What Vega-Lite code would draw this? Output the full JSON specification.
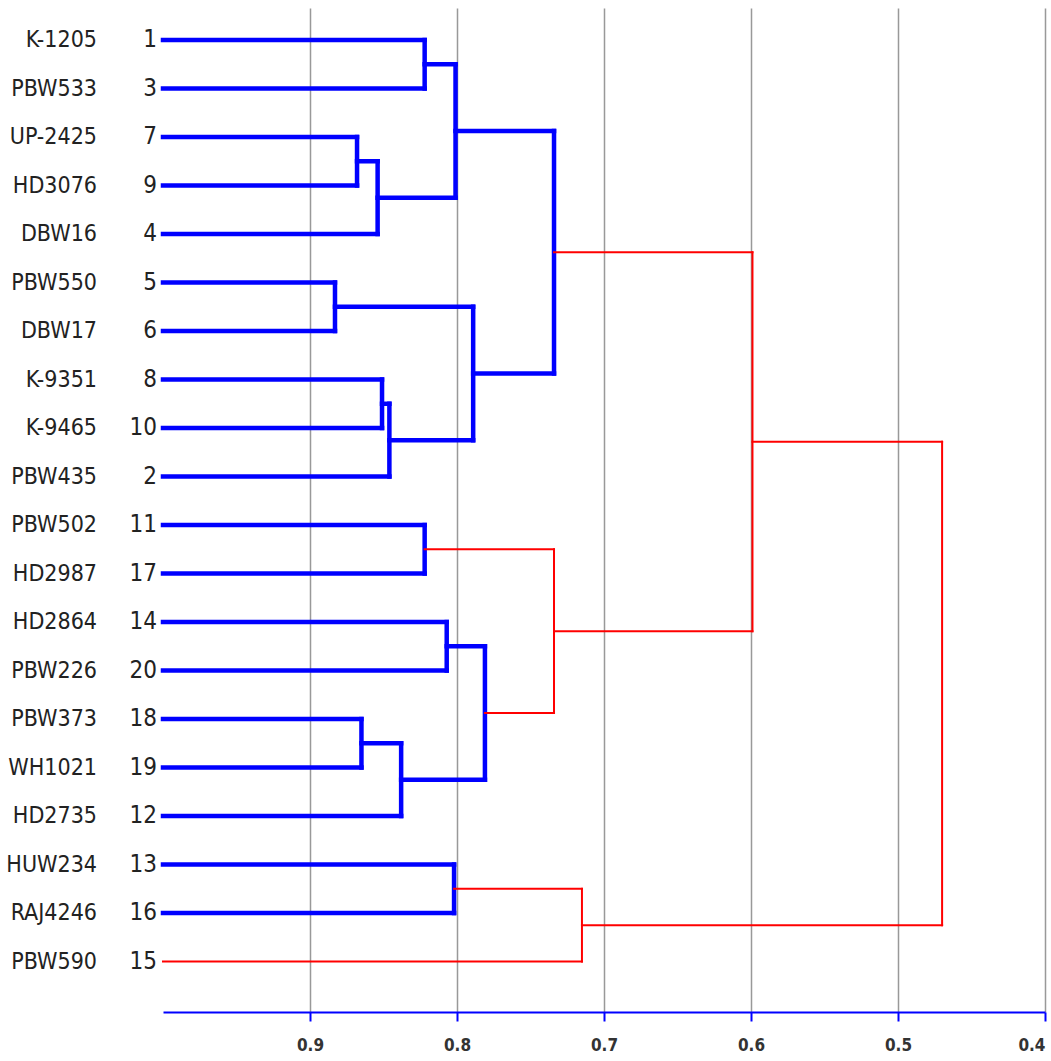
{
  "$schema": "https://vega.github.io/schema/vega-lite/v6.json",
  "width": 882,
  "height": 1004,
  "autosize": "none",
  "padding": {"left": 163, "top": 8, "right": 6, "bottom": 49},
  "background": "white",
  "config": {"view": {"stroke": null}},
  "datasets": {
    "segs": [
      {"x1": 1.0, "x2": 0.822, "y1": 1, "y2": 1, "grp": "cluster"},
      {"x1": 1.0, "x2": 0.822, "y1": 2, "y2": 2, "grp": "cluster"},
      {"x1": 0.822, "x2": 0.822, "y1": 1, "y2": 2, "grp": "cluster"},
      {"x1": 1.0, "x2": 0.868, "y1": 3, "y2": 3, "grp": "cluster"},
      {"x1": 1.0, "x2": 0.868, "y1": 4, "y2": 4, "grp": "cluster"},
      {"x1": 0.868, "x2": 0.868, "y1": 3, "y2": 4, "grp": "cluster"},
      {"x1": 0.868, "x2": 0.854, "y1": 3.5, "y2": 3.5, "grp": "cluster"},
      {"x1": 1.0, "x2": 0.854, "y1": 5, "y2": 5, "grp": "cluster"},
      {"x1": 0.854, "x2": 0.854, "y1": 3.5, "y2": 5, "grp": "cluster"},
      {"x1": 0.822, "x2": 0.801, "y1": 1.5, "y2": 1.5, "grp": "cluster"},
      {"x1": 0.854, "x2": 0.801, "y1": 4.25, "y2": 4.25, "grp": "cluster"},
      {"x1": 0.801, "x2": 0.801, "y1": 1.5, "y2": 4.25, "grp": "cluster"},
      {"x1": 1.0, "x2": 0.883, "y1": 6, "y2": 6, "grp": "cluster"},
      {"x1": 1.0, "x2": 0.883, "y1": 7, "y2": 7, "grp": "cluster"},
      {"x1": 0.883, "x2": 0.883, "y1": 6, "y2": 7, "grp": "cluster"},
      {"x1": 1.0, "x2": 0.851, "y1": 8, "y2": 8, "grp": "cluster"},
      {"x1": 1.0, "x2": 0.851, "y1": 9, "y2": 9, "grp": "cluster"},
      {"x1": 0.851, "x2": 0.851, "y1": 8, "y2": 9, "grp": "cluster"},
      {"x1": 0.851, "x2": 0.846, "y1": 8.5, "y2": 8.5, "grp": "cluster"},
      {"x1": 1.0, "x2": 0.846, "y1": 10, "y2": 10, "grp": "cluster"},
      {"x1": 0.846, "x2": 0.846, "y1": 8.5, "y2": 10, "grp": "cluster"},
      {"x1": 0.883, "x2": 0.789, "y1": 6.5, "y2": 6.5, "grp": "cluster"},
      {"x1": 0.846, "x2": 0.789, "y1": 9.25, "y2": 9.25, "grp": "cluster"},
      {"x1": 0.789, "x2": 0.789, "y1": 6.5, "y2": 9.25, "grp": "cluster"},
      {"x1": 0.801, "x2": 0.734, "y1": 2.875, "y2": 2.875, "grp": "cluster"},
      {"x1": 0.789, "x2": 0.734, "y1": 7.875, "y2": 7.875, "grp": "cluster"},
      {"x1": 0.734, "x2": 0.734, "y1": 2.875, "y2": 7.875, "grp": "cluster"},
      {"x1": 1.0, "x2": 0.822, "y1": 11, "y2": 11, "grp": "cluster"},
      {"x1": 1.0, "x2": 0.822, "y1": 12, "y2": 12, "grp": "cluster"},
      {"x1": 0.822, "x2": 0.822, "y1": 11, "y2": 12, "grp": "cluster"},
      {"x1": 1.0, "x2": 0.807, "y1": 13, "y2": 13, "grp": "cluster"},
      {"x1": 1.0, "x2": 0.807, "y1": 14, "y2": 14, "grp": "cluster"},
      {"x1": 0.807, "x2": 0.807, "y1": 13, "y2": 14, "grp": "cluster"},
      {"x1": 1.0, "x2": 0.865, "y1": 15, "y2": 15, "grp": "cluster"},
      {"x1": 1.0, "x2": 0.865, "y1": 16, "y2": 16, "grp": "cluster"},
      {"x1": 0.865, "x2": 0.865, "y1": 15, "y2": 16, "grp": "cluster"},
      {"x1": 0.865, "x2": 0.838, "y1": 15.5, "y2": 15.5, "grp": "cluster"},
      {"x1": 1.0, "x2": 0.838, "y1": 17, "y2": 17, "grp": "cluster"},
      {"x1": 0.838, "x2": 0.838, "y1": 15.5, "y2": 17, "grp": "cluster"},
      {"x1": 0.807, "x2": 0.781, "y1": 13.5, "y2": 13.5, "grp": "cluster"},
      {"x1": 0.838, "x2": 0.781, "y1": 16.25, "y2": 16.25, "grp": "cluster"},
      {"x1": 0.781, "x2": 0.781, "y1": 13.5, "y2": 16.25, "grp": "cluster"},
      {"x1": 1.0, "x2": 0.802, "y1": 18, "y2": 18, "grp": "cluster"},
      {"x1": 1.0, "x2": 0.802, "y1": 19, "y2": 19, "grp": "cluster"},
      {"x1": 0.802, "x2": 0.802, "y1": 18, "y2": 19, "grp": "cluster"},
      {"x1": 0.822, "x2": 0.734, "y1": 11.5, "y2": 11.5, "grp": "link"},
      {"x1": 0.781, "x2": 0.734, "y1": 14.875, "y2": 14.875, "grp": "link"},
      {"x1": 0.734, "x2": 0.734, "y1": 11.5, "y2": 14.875, "grp": "link"},
      {"x1": 0.734, "x2": 0.599, "y1": 5.375, "y2": 5.375, "grp": "link"},
      {"x1": 0.734, "x2": 0.599, "y1": 13.1875, "y2": 13.1875, "grp": "link"},
      {"x1": 0.599, "x2": 0.599, "y1": 5.375, "y2": 13.1875, "grp": "link"},
      {"x1": 0.802, "x2": 0.715, "y1": 18.5, "y2": 18.5, "grp": "link"},
      {"x1": 1.0, "x2": 0.715, "y1": 20, "y2": 20, "grp": "link"},
      {"x1": 0.715, "x2": 0.715, "y1": 18.5, "y2": 20, "grp": "link"},
      {"x1": 0.599, "x2": 0.470, "y1": 9.28125, "y2": 9.28125, "grp": "link"},
      {"x1": 0.715, "x2": 0.470, "y1": 19.25, "y2": 19.25, "grp": "link"},
      {"x1": 0.470, "x2": 0.470, "y1": 9.28125, "y2": 19.25, "grp": "link"}
    ],
    "leaves": [
      {"pos": 1, "name": "K-1205", "num": "1"},
      {"pos": 2, "name": "PBW533", "num": "3"},
      {"pos": 3, "name": "UP-2425", "num": "7"},
      {"pos": 4, "name": "HD3076", "num": "9"},
      {"pos": 5, "name": "DBW16", "num": "4"},
      {"pos": 6, "name": "PBW550", "num": "5"},
      {"pos": 7, "name": "DBW17", "num": "6"},
      {"pos": 8, "name": "K-9351", "num": "8"},
      {"pos": 9, "name": "K-9465", "num": "10"},
      {"pos": 10, "name": "PBW435", "num": "2"},
      {"pos": 11, "name": "PBW502", "num": "11"},
      {"pos": 12, "name": "HD2987", "num": "17"},
      {"pos": 13, "name": "HD2864", "num": "14"},
      {"pos": 14, "name": "PBW226", "num": "20"},
      {"pos": 15, "name": "PBW373", "num": "18"},
      {"pos": 16, "name": "WH1021", "num": "19"},
      {"pos": 17, "name": "HD2735", "num": "12"},
      {"pos": 18, "name": "HUW234", "num": "13"},
      {"pos": 19, "name": "RAJ4246", "num": "16"},
      {"pos": 20, "name": "PBW590", "num": "15"}
    ]
  },
  "layer": [
    {
      "data": {"name": "segs"},
      "mark": {"type": "rule", "strokeCap": "square"},
      "encoding": {
        "x": {
          "field": "x1", "type": "quantitative",
          "scale": {"domain": [1.0, 0.4], "nice": false, "zero": false},
          "axis": {
            "values": [0.9, 0.8, 0.7, 0.6, 0.5, 0.4],
            "title": null,
            "format": ".1f",
            "grid": true, "gridColor": "#999999", "gridWidth": 1.5, "gridOpacity": 1,
            "domainColor": "#0000ff", "domainWidth": 2,
            "tickColor": "#0000ff", "tickWidth": 2, "tickSize": 9,
            "labelFont": "DejaVu Sans Condensed, Liberation Sans, Arial", "labelFontWeight": "bold",
            "labelFontSize": 17, "labelColor": "#333333", "labelPadding": 16,
            "labelFlush": true
          }
        },
        "x2": {"field": "x2"},
        "y": {
          "field": "y1", "type": "quantitative",
          "scale": {"domain": [0.34, 21.04], "reverse": true, "nice": false, "zero": false},
          "axis": null
        },
        "y2": {"field": "y2"},
        "color": {
          "field": "grp", "type": "nominal",
          "scale": {"domain": ["cluster", "link"], "range": ["#0000ff", "#ff0000"]},
          "legend": null
        },
        "strokeWidth": {
          "field": "grp", "type": "nominal",
          "scale": {"domain": ["cluster", "link"], "range": [4.5, 2]},
          "legend": null
        }
      }
    },
    {
      "data": {"name": "leaves"},
      "mark": {"type": "text", "align": "right", "baseline": "middle", "dx": -6,
               "font": "DejaVu Sans Condensed, Liberation Sans, Arial", "fontSize": 24, "color": "#222222"},
      "encoding": {
        "x": {"datum": 1.0, "type": "quantitative"},
        "y": {"field": "pos", "type": "quantitative"},
        "text": {"field": "num"}
      }
    },
    {
      "data": {"name": "leaves"},
      "mark": {"type": "text", "align": "right", "baseline": "middle", "dx": -66,
               "font": "DejaVu Sans Condensed, Liberation Sans, Arial", "fontSize": 23, "color": "#222222"},
      "encoding": {
        "x": {"datum": 1.0, "type": "quantitative"},
        "y": {"field": "pos", "type": "quantitative"},
        "text": {"field": "name"}
      }
    }
  ]
}
